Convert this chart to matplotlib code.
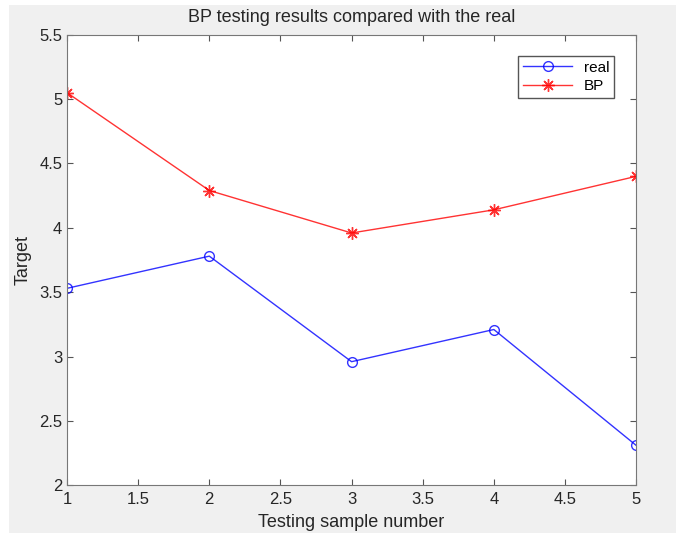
import matplotlib
matplotlib.use("Agg")
import matplotlib.pyplot as plt
from matplotlib.patches import Rectangle

plt.rcParams["font.family"] = ["Liberation Sans", "DejaVu Sans"]

samples = [1, 2, 3, 4, 5]
real = [3.53, 3.78, 2.96, 3.21, 2.31]
bp = [5.05, 4.29, 3.96, 4.14, 4.40]

fig = plt.figure(figsize=(6.84, 5.35), dpi=100, facecolor="white")
# matlab style grey window background
fig.patches.append(Rectangle((0.013, 0.004), 0.975, 0.986, transform=fig.transFigure,
                             facecolor="#f0f0f0", edgecolor="none", zorder=-10))

ax = fig.add_axes([0.098, 0.093, 0.832, 0.842])
ax.plot(samples, real, color="blue", marker="o", markerfacecolor="none",
        markersize=7, linewidth=1, alpha=0.8, label="real")
ax.plot(samples, bp, color="red", marker=(8, 2, 0), markersize=9, linewidth=1,
        markeredgewidth=1, alpha=0.8, label="BP")

ax.set_xlim(1, 5)
ax.set_ylim(2, 5.5)
ax.set_xticks([1, 1.5, 2, 2.5, 3, 3.5, 4, 4.5, 5])
ax.set_xticklabels(["1", "1.5", "2", "2.5", "3", "3.5", "4", "4.5", "5"])
ax.set_yticks([2, 2.5, 3, 3.5, 4, 4.5, 5, 5.5])
ax.set_yticklabels(["2", "2.5", "3", "3.5", "4", "4.5", "5", "5.5"])
ax.tick_params(direction="in", top=True, right=True, length=4, labelsize=12,
               color="#555555", labelcolor="#262626")
ax.tick_params(axis="x", pad=5)
for s in ax.spines.values():
    s.set_color("#777777")

ax.set_title("BP testing results compared with the real", fontsize=13, color="#262626", pad=9)
ax.set_xlabel("Testing sample number", fontsize=13, color="#262626", labelpad=5)
ax.set_ylabel("Target", fontsize=13, color="#262626", labelpad=5)

leg = ax.legend(loc="upper right", bbox_to_anchor=(0.975, 0.97), fontsize=11,
                fancybox=False, framealpha=1, edgecolor="#555555",
                handlelength=3.2, borderpad=0.3, labelspacing=0.3)

fig.savefig("out.png", dpi=100, facecolor=fig.get_facecolor())
